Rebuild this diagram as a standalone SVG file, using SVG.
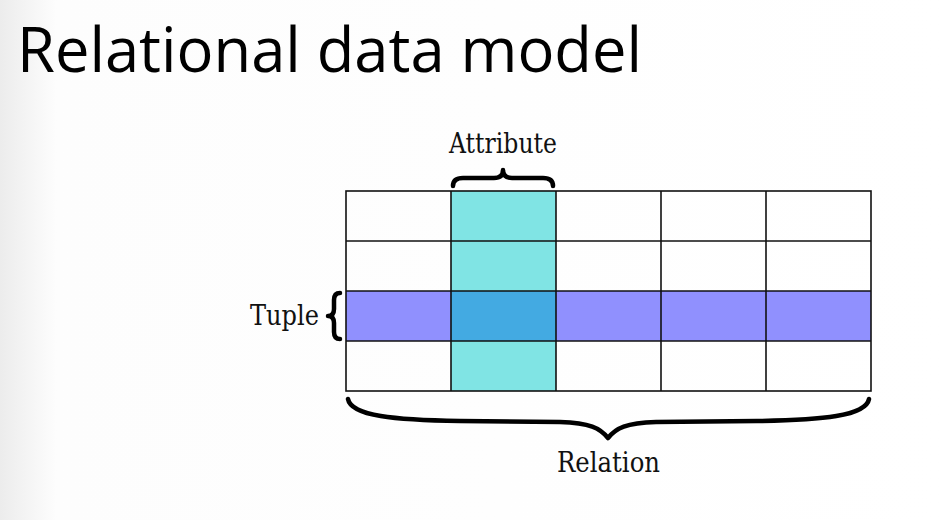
<svg xmlns="http://www.w3.org/2000/svg" width="943" height="520" viewBox="0 0 943 520">
<defs>
<linearGradient id="bg" x1="0" y1="0" x2="1" y2="0">
<stop offset="0" stop-color="#ececec"/>
<stop offset="0.06" stop-color="#fdfdfd"/>
<stop offset="1" stop-color="#ffffff"/>
</linearGradient>
</defs>
<style>
.grid{stroke:#111;stroke-width:1.6;fill:none}
.brace{stroke:#000;stroke-width:4.5;fill:none;stroke-linejoin:round;stroke-linecap:round}
.lbl{font-family:"DejaVu Serif","Liberation Serif",serif;font-size:27px;fill:#111}
</style>
<rect width="943" height="520" fill="url(#bg)"/>
<text id="title" x="17" y="72" font-family="Open Sans, Noto Sans, sans-serif" font-size="63" fill="#000" textLength="625" lengthAdjust="spacingAndGlyphs">Relational data model</text>
<g id="table">
<rect x="451" y="191" width="105" height="200" fill="#80e4e4"/>
<rect x="346" y="291" width="525" height="50" fill="#9090fe"/>
<rect x="451" y="291" width="105" height="50" fill="#43aae2"/>
<g class="grid">
<rect x="346" y="191" width="525" height="200"/>
<line x1="346" y1="241" x2="871" y2="241"/>
<line x1="346" y1="291" x2="871" y2="291"/>
<line x1="346" y1="341" x2="871" y2="341"/>
<line x1="451" y1="191" x2="451" y2="391"/>
<line x1="556" y1="191" x2="556" y2="391"/>
<line x1="661" y1="191" x2="661" y2="391"/>
<line x1="766" y1="191" x2="766" y2="391"/>
</g>
</g>
<g id="attribute">
<path class="brace" d="M453,186 Q453,178 463,178 L494,178 Q503,178 503,170 Q503,178 512,178 L543,178 Q553,178 553,186"/>
<text class="lbl" x="449" y="153" textLength="108" lengthAdjust="spacingAndGlyphs">Attribute</text>
</g>
<g id="tuple">
<path class="brace" stroke-width="5" d="M340,293 Q334,293 334,300 L334,309 Q334,316 328,316 Q334,316 334,323 L334,332 Q334,339 340,339"/>
<text class="lbl" x="250" y="325" textLength="69" lengthAdjust="spacingAndGlyphs">Tuple</text>
</g>
<g id="relation">
<path class="brace" stroke-width="5.5" d="M348,399 C351,416 395,420 460,421 L560,422 C590,423 600,428 608,438 C616,428 626,423 656,422 L757,421 C822,420 866,416 869,399"/>
<text class="lbl" x="557" y="472" textLength="103" lengthAdjust="spacingAndGlyphs">Relation</text>
</g>
</svg>
